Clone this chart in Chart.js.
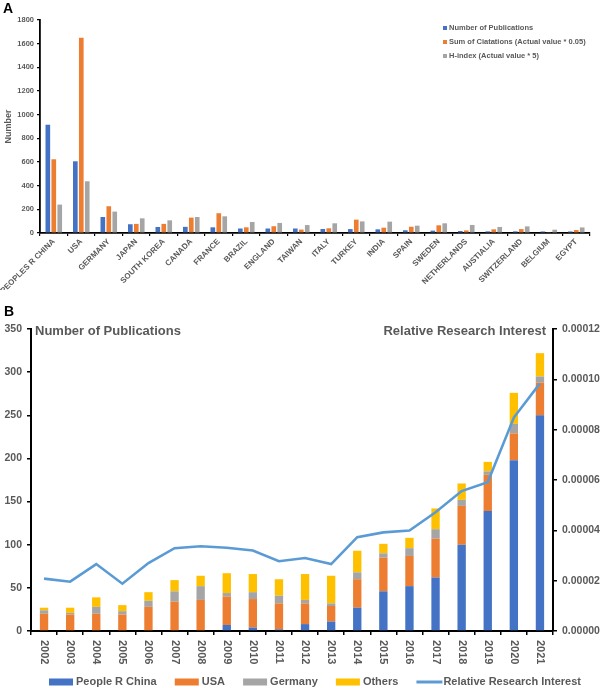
<!DOCTYPE html>
<html><head><meta charset="utf-8">
<script src="https://cdn.jsdelivr.net/npm/chart.js@4.4.0/dist/chart.umd.min.js"></script>
<style>
html,body{margin:0;padding:0;background:#fff;}
#wrap{position:relative;width:602px;height:688px;overflow:hidden;font-family:"Liberation Sans",Arial,sans-serif;}
#ca{position:absolute;left:0;top:0;}
#cb{position:absolute;left:0;top:290px;}
.plab{position:absolute;font-weight:bold;color:#000;font-size:14px;line-height:14px;}
</style></head><body>
<div id="wrap">
<canvas id="ca" width="602" height="290"></canvas>
<canvas id="cb" width="602" height="398"></canvas>
<div class="plab" style="left:3px;top:1px;">A</div>
<div class="plab" style="left:4px;top:304px;">B</div>
</div>
<script>
// ---------- Panel A data ----------
const countries = ['PEOPLES R CHINA','USA','GERMANY','JAPAN','SOUTH KOREA','CANADA','FRANCE','BRAZIL','ENGLAND','TAIWAN','ITALY','TURKEY','INDIA','SPAIN','SWEDEN','NETHERLANDS','AUSTIALIA','SWITZERLAND','BELGIUM','EGYPT'];
const publications = [915,606,135,74,51,52,48,38,38,38,34,33,31,23,20,17,14,14,13,13];
const citationsScaled = [623,1650,226,77,77,130,167,48,57,29,40,113,45,53,65,22,31,33,3,25];
const hIndexScaled = [240,437,181,124,107,135,141,93,85,67,82,98,96,62,82,68,51,56,28,47];
const aTicks = [0,200,400,600,800,1000,1200,1400,1600,1800];

// ---------- Panel B data ----------
const years = ['2002','2003','2004','2005','2006','2007','2008','2009','2010','2011','2012','2013','2014','2015','2016','2017','2018','2019','2020','2021'];
const chinaPubs = [0,0,0,0,0,0,0,7,4,2,8,11,27,46,52,62,100,139,198,250];
const usaPubs = [20,19,20,19,28,34,36,33,33,30,24,18,33,39,35,45,45,42,31,38];
const germanyPubs = [4,2,8,4,7,12,16,4,8,9,4,3,8,5,9,11,7,4,11,7];
const othersPubs = [3,6,11,7,10,13,12,23,21,19,30,32,25,11,12,24,19,11,36,27];
const relInterest = [2.08e-5,1.96e-5,2.66e-5,1.88e-5,2.70e-5,3.29e-5,3.37e-5,3.31e-5,3.20e-5,2.77e-5,2.90e-5,2.66e-5,3.73e-5,3.92e-5,3.99e-5,4.72e-5,5.56e-5,5.91e-5,8.48e-5,9.84e-5];

const F = '"Liberation Sans", Arial, sans-serif';
const GRAY_T = '#595959';
const C_BLUE = '#4472C4', C_ORANGE = '#ED7D31', C_GRAY = '#A5A5A5', C_YELLOW = '#FFC000', C_LINE = '#5B9BD5';

// ---------- Panel A ----------
const legendA = {
  id:'legendA',
  afterDraw(chart){
    const ctx = chart.ctx;
    ctx.save();
    ctx.font = 'bold 7.5px ' + F;
    ctx.textBaseline = 'middle';
    ctx.textAlign = 'left';
    const ys = [28,42,56];
    chart.data.datasets.forEach((ds,i)=>{
      ctx.fillStyle = ds.backgroundColor;
      ctx.fillRect(443, ys[i]-2, 4, 4);
      ctx.fillStyle = GRAY_T;
      ctx.fillText(ds.label, 449, ys[i]);
    });
    ctx.restore();
  }
};

const barOptsA = {categoryPercentage:0.65, barPercentage:0.78};
new Chart(document.getElementById('ca'), {
  type:'bar',
  data:{
    labels:countries,
    datasets:[
      Object.assign({label:'Number of Publications', data:publications, backgroundColor:C_BLUE}, barOptsA),
      Object.assign({label:'Sum of Ciatations (Actual value * 0.05)', data:citationsScaled, backgroundColor:C_ORANGE}, barOptsA),
      Object.assign({label:'H-index (Actual value * 5)', data:hIndexScaled, backgroundColor:C_GRAY}, barOptsA)
    ]
  },
  options:{
    responsive:false, animation:false,
    layout:{padding:{top:20,right:12,left:0,bottom:0}},
    plugins:{legend:{display:false}, tooltip:{enabled:false}},
    scales:{
      x:{
        grid:{display:true, drawOnChartArea:false, drawTicks:true, tickLength:3, color:'#000', lineWidth:1.2},
        border:{display:true, color:'#000', width:1.8},
        ticks:{font:{family:F,size:8,weight:'bold'}, color:GRAY_T, minRotation:45, maxRotation:45, autoSkip:false, padding:1},
        afterFit:s=>{s.height=57;}
      },
      y:{
        min:0, max:1800,
        afterBuildTicks:s=>{s.ticks = aTicks.map(v=>({value:v}));},
        ticks:{font:{family:F,size:7.5,weight:'bold'}, color:GRAY_T, padding:3, callback:v=>String(v)},
        grid:{display:true, drawOnChartArea:false, drawTicks:true, tickLength:3, color:'#000', lineWidth:1.2},
        border:{display:true, color:'#000', width:1.8},
        title:{display:true, text:'Number', font:{family:F,size:9,weight:'bold'}, color:GRAY_T, padding:0},
        afterFit:s=>{s.width=37;}
      }
    }
  },
  plugins:[legendA]
});

// ---------- Panel B ----------
const decoB = {
  id:'decoB',
  afterDraw(chart){
    const ctx = chart.ctx;
    const area = chart.chartArea;
    const xs = chart.scales.x;
    ctx.save();
    // year labels, reading top to bottom
    ctx.font = 'bold 11px ' + F;
    ctx.fillStyle = GRAY_T;
    ctx.textBaseline = 'middle';
    ctx.textAlign = 'left';
    years.forEach((y,i)=>{
      const x = xs.getPixelForValue(i);
      ctx.save();
      ctx.translate(x, area.bottom + 9);
      ctx.rotate(Math.PI/2);
      ctx.fillText(y, 0, 0);
      ctx.restore();
    });
    // axis titles
    ctx.font = 'bold 13px ' + F;
    ctx.textBaseline = 'middle';
    ctx.textAlign = 'left';
    ctx.fillText('Number of Publications', area.left + 4, area.top + 2);
    ctx.textAlign = 'right';
    ctx.fillText('Relative Research Interest', area.right - 7, area.top + 2);
    // legend
    ctx.font = 'bold 11px ' + F;
    ctx.textAlign = 'left';
    const ds = chart.data.datasets;
    const items = [ds[0],ds[1],ds[2],ds[3],ds[4]];
    const boxW = 24, gapT = 3;
    const widths = items.map(d=>boxW + gapT + ctx.measureText(d.label).width);
    const sum = widths.reduce((a,b)=>a+b,0);
    const startX = 49, endX = 581;
    const gap = (endX - startX - sum) / (items.length - 1);
    const ly = 392;
    let x = startX;
    items.forEach((d,i)=>{
      if (d.type === 'line') {
        ctx.strokeStyle = d.borderColor;
        ctx.lineWidth = 3;
        ctx.beginPath();
        ctx.moveTo(x, ly); ctx.lineTo(x+boxW+2, ly);
        ctx.stroke();
      } else {
        ctx.fillStyle = d.backgroundColor;
        ctx.fillRect(x, ly-3.5, boxW, 7);
      }
      ctx.fillStyle = GRAY_T;
      ctx.fillText(d.label, x + boxW + gapT, ly);
      x += widths[i] + gap;
    });
    ctx.restore();
  }
};

const barOptsB = {categoryPercentage:0.32, barPercentage:1, order:1, yAxisID:'y'};
new Chart(document.getElementById('cb'), {
  type:'bar',
  data:{
    labels:years,
    datasets:[
      Object.assign({label:'People R China', data:chinaPubs, backgroundColor:C_BLUE}, barOptsB),
      Object.assign({label:'USA', data:usaPubs, backgroundColor:C_ORANGE}, barOptsB),
      Object.assign({label:'Germany', data:germanyPubs, backgroundColor:C_GRAY}, barOptsB),
      Object.assign({label:'Others', data:othersPubs, backgroundColor:C_YELLOW}, barOptsB),
      {type:'line', label:'Relative Research Interest', data:relInterest, borderColor:C_LINE, backgroundColor:C_LINE,
       borderWidth:2.6, pointRadius:0, tension:0, fill:false, order:0, yAxisID:'y1'}
    ]
  },
  options:{
    responsive:false, animation:false,
    layout:{padding:{top:39,right:0,left:0,bottom:0}},
    plugins:{legend:{display:false}, tooltip:{enabled:false}},
    scales:{
      x:{
        stacked:true,
        grid:{display:true, drawOnChartArea:false, drawTicks:true, tickLength:4, color:'#000', lineWidth:1.5, offset:true},
        border:{display:true, color:'#000', width:2},
        ticks:{color:'rgba(0,0,0,0)', autoSkip:false, maxRotation:0, font:{size:1}},
        afterFit:s=>{s.height=57;}
      },
      y:{
        stacked:true, min:0, max:350,
        ticks:{stepSize:50, font:{family:F,size:10.5,weight:'bold'}, color:GRAY_T, padding:5},
        grid:{display:true, drawOnChartArea:false, drawTicks:true, tickLength:4, color:'#000', lineWidth:1.5},
        border:{display:true, color:'#000', width:2},
        afterFit:s=>{s.width=31;}
      },
      y1:{
        position:'right', min:0, max:0.00012,
        ticks:{stepSize:0.00002, callback:v=>Number(v).toFixed(5), font:{family:F,size:10.5,weight:'bold'}, color:GRAY_T, padding:5},
        grid:{display:true, drawOnChartArea:false, drawTicks:true, tickLength:4, color:'#000', lineWidth:1.5},
        border:{display:true, color:'#000', width:2},
        afterFit:s=>{s.width=49;}
      }
    }
  },
  plugins:[decoB]
});
</script>
</body></html>
